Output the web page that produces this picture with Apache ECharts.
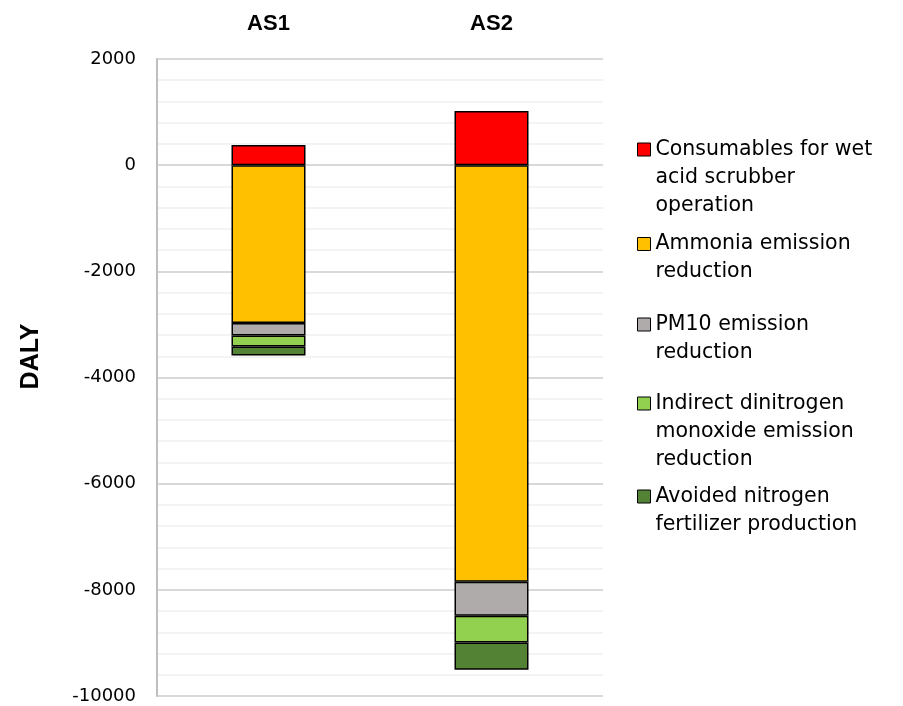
<!DOCTYPE html>
<html><head><meta charset="utf-8">
<script src="https://cdn.jsdelivr.net/npm/echarts@6/dist/echarts.min.js"></script>
<style>html,body{margin:0;padding:0;background:#fff}#c{width:903px;height:706px}</style>
</head><body><div id="c"></div>
<script>
const categories = ['AS1', 'AS2'];
const seriesNames = [
  'Consumables for wet\nacid scrubber\noperation',
  'Ammonia emission\nreduction',
  'PM10 emission\nreduction',
  'Indirect dinitrogen\nmonoxide emission\nreduction',
  'Avoided nitrogen\nfertilizer production'
];
const consumables = [380, 1020];
const ammonia = [-2975, -7850];
const pm10 = [-235, -640];
const indirectN2O = [-205, -500];
const avoidedFertilizer = [-170, -515];
const yTicks = {min: -10000, max: 2000, interval: 2000};

const colors = ['#FF0000', '#FFC000', '#AFABAB', '#92D050', '#548235'];
const values = [consumables, ammonia, pm10, indirectN2O, avoidedFertilizer];
const iconCenters = [149.5, 244, 324.5, 403.5, 496.5];
const LH = 28;

const chart = echarts.init(document.getElementById('c'));
const font = 'DejaVu Sans';
chart.setOption({
  animation: false,
  grid: {left: 157, right: 300, top: 59, bottom: 10},
  xAxis: {
    type: 'category', data: categories, position: 'top',
    axisLine: {show: false}, axisTick: {show: false},
    axisLabel: {margin: 24, fontFamily: 'Liberation Sans', fontWeight: 'bold', fontSize: 22, color: '#000'}
  },
  yAxis: {
    type: 'value', min: yTicks.min, max: yTicks.max, interval: yTicks.interval,
    name: 'DALY', nameLocation: 'middle', nameGap: 113,
    nameTextStyle: {fontFamily: 'Liberation Sans', fontWeight: 'bold', fontSize: 25, color: '#000', padding: [0, 0, 0, 42]},
    axisLine: {show: true, lineStyle: {color: '#bfbfbf', width: 2}},
    axisTick: {show: false},
    axisLabel: {fontFamily: font, fontSize: 18, color: '#000', margin: 21, formatter: v => String(v)},
    splitLine: {show: true, lineStyle: {color: '#d9d9d9', width: 2}},
    minorTick: {show: false, splitNumber: 5},
    minorSplitLine: {show: true, lineStyle: {color: '#f0f0f0', width: 1.5}}
  },
  legend: seriesNames.map((n, i) => {
    const lines = n.split('\n').length;
    const total = 2 * lines - 1;
    return {
      data: [n], left: 637, top: iconCenters[i] - total * LH / 2, orient: 'vertical', padding: 0,
      icon: 'rect', itemWidth: 13, itemHeight: 13,
      itemStyle: {borderColor: '#000', borderWidth: 1},
      formatter: name => '\n'.repeat(lines - 1) + name,
      textStyle: {fontFamily: font, fontSize: 20.5, color: '#000', lineHeight: LH},
      selectedMode: false
    };
  }),
  series: seriesNames.map((n, i) => ({
    name: n, type: 'bar', stack: 'total', data: values[i], barWidth: 74,
    itemStyle: {color: colors[i], borderColor: '#000', borderWidth: 1.5}
  }))
});
</script></body></html>
